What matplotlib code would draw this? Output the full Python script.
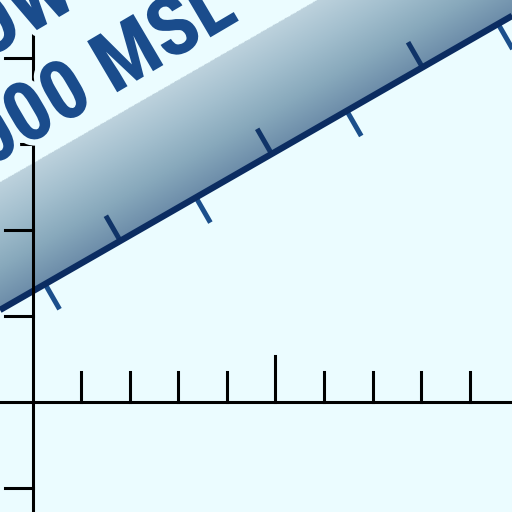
import numpy as np
import matplotlib
matplotlib.use("Agg")
import matplotlib.pyplot as plt
from matplotlib import patheffects as pe
from matplotlib.colors import LinearSegmentedColormap

# ---------------- data ----------------
x_ticks = [1, 2, 3, 4, 5, 6, 7, 8, 9]          # ticks on horizontal axis
x_major_tick = 5                                # the taller tick
y_ticks = [4, 3, 2, 1, -1]                      # ticks on vertical axis
line_x = [-0.68, 9.88]                          # sloped boundary line
line_y = [1.07, 4.49]
band_height = 1.49                              # height of shaded band above line
diag_ticks_below = [0.25, 3.36, 6.47, 9.59]     # ticks hanging below the line
diag_ticks_above = [1.80, 4.92, 8.03]           # ticks standing above the line
label_line1 = "BELOW"
label_line2 = "3000 MSL"
label1_pos = (0.97, 4.62)
label2_pos = (4.29, 4.45)

# ---------------- style ----------------
BG = "#ebfcff"
NAVY = "#0b2c61"
TICK_BELOW = "#1b4f8c"
TICK_ABOVE = "#103468"
TEXT = "#1a4c8c"
XMIN, XMAX = -0.68, 9.876
YMIN, YMAX = -1.279, 4.674

fig = plt.figure(figsize=(5.12, 5.12), dpi=100)
fig.patch.set_facecolor(BG)
ax = fig.add_axes([0, 0, 1, 1])
ax.set_facecolor(BG)
ax.set_xlim(XMIN, XMAX)
ax.set_ylim(YMIN, YMAX)
ax.axis("off")

px_x = 512 / (XMAX - XMIN)
px_y = 512 / (YMAX - YMIN)

# gradient band
cmap = LinearSegmentedColormap.from_list(
    "band", ["#6b8ba8", "#88a9bc", "#a3bfce", "#bdd2dd"])
gx = np.linspace(XMIN, XMAX, 600)
gy = np.linspace(YMIN, YMAX, 600)
GX, GY = np.meshgrid(gx, gy)
base = np.interp(GX, line_x, line_y)
t = (GY - base) / band_height
rgba = cmap(np.clip(t, 0, 1))
rgba[..., 3] = ((t >= 0) & (t <= 1)).astype(float)
ax.imshow(rgba, origin="lower", extent=[XMIN, XMAX, YMIN, YMAX],
          aspect="auto", interpolation="bilinear", zorder=1)

# sloped line
ax.plot(line_x, line_y, color=NAVY, lw=4.6, solid_capstyle="butt", zorder=3)

# ticks on sloped line (perpendicular in screen space)
slope_px = (line_y[1] - line_y[0]) * px_y / ((line_x[1] - line_x[0]) * px_x)
ang = np.arctan(slope_px)
ux, uy = np.sin(ang), -np.cos(ang)     # screen direction down-right
L = 29
for xv in diag_ticks_below:
    yv = np.interp(xv, line_x, line_y)
    ax.plot([xv, xv + ux * L / px_x], [yv, yv + uy * L / px_y],
            color=TICK_BELOW, lw=3.6, solid_capstyle="butt", zorder=2.9)
for xv in diag_ticks_above:
    yv = np.interp(xv, line_x, line_y)
    ax.plot([xv, xv - ux * L / px_x], [yv, yv - uy * L / px_y],
            color=TICK_ABOVE, lw=3.6, solid_capstyle="butt", zorder=2.9)

# black axes
ax.axhline(0, color="black", lw=2.2, zorder=4)
ax.axvline(0, color="black", lw=2.2, zorder=4)
for xv in x_ticks:
    h = (46 if xv == x_major_tick else 30) / px_y
    ax.plot([xv, xv], [0, h], color="black", lw=2.2, zorder=4)
for yv in y_ticks:
    ax.plot([-28 / px_x, 0], [yv, yv], color="black", lw=2.2, zorder=4)

# labels
halo = [pe.withStroke(linewidth=9, foreground=BG)]
for s, (xv, yv) in [(label_line1, label1_pos), (label_line2, label2_pos)]:
    ax.text(xv, yv, s, rotation=30.5, rotation_mode="anchor", ha="right",
            va="baseline", fontsize=60, fontweight="bold",
            family=["Roboto Condensed", "DejaVu Sans"],
            color=TEXT, path_effects=halo, zorder=5)

fig.savefig("out.png", dpi=100, facecolor=BG)
